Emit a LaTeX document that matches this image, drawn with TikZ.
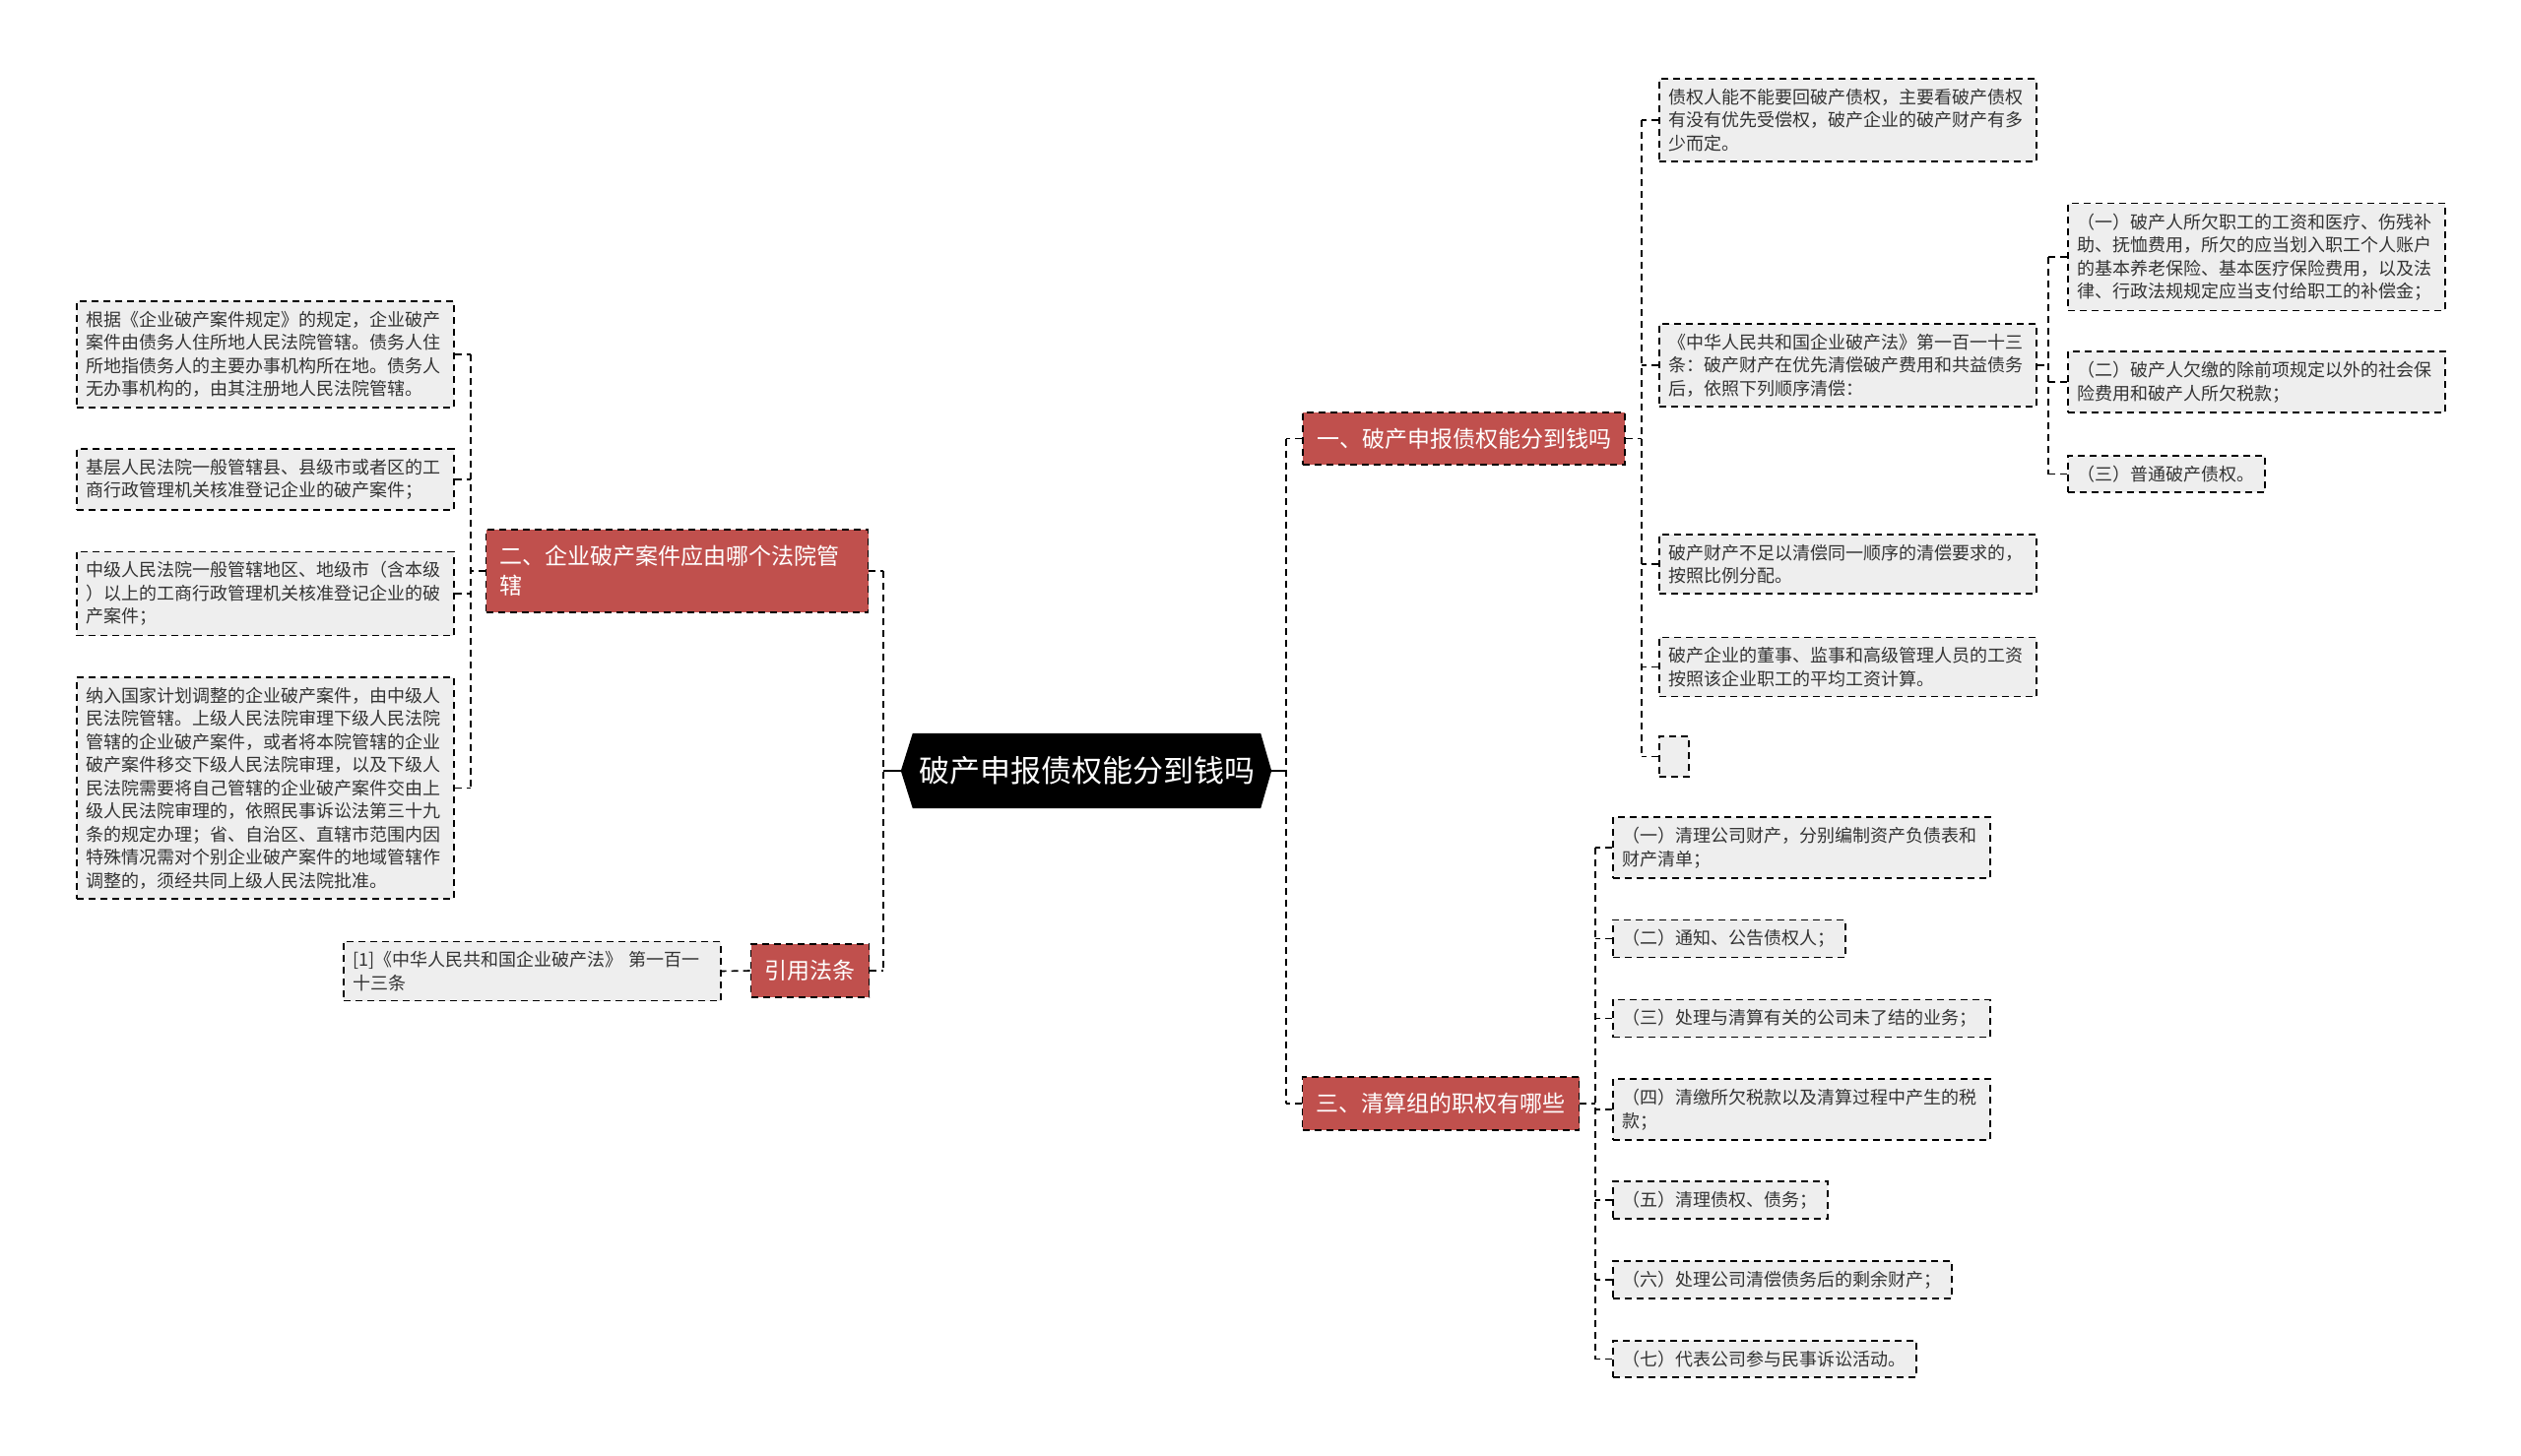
\documentclass[tikz,border=0pt]{standalone}
\usepackage{fontspec}
\setmainfont{Noto Sans CJK SC}
\usetikzlibrary{backgrounds}
\definecolor{mapred}{HTML}{C0504D}
\definecolor{leaffill}{HTML}{EEEEEE}
\definecolor{leaftext}{HTML}{333333}
\tikzset{
  link/.style={black,line width=1.6pt,dash pattern=on 7pt off 5pt},
  rootbox/.style={text=white,minimum width=353pt,minimum height=76pt,inner sep=0pt,font=\fontsize{31}{36}\selectfont},
  topic/.style={fill=mapred,draw=black,line width=1.6pt,dash pattern=on 7pt off 5pt,text=white,inner xsep=14pt,inner ysep=12pt,font=\fontsize{23}{30}\selectfont},
  leaf/.style={fill=leaffill,draw=black,line width=1.6pt,dash pattern=on 7pt off 5pt,text=leaftext,inner xsep=10pt,inner ysep=10pt,align=left,font=\fontsize{18}{23.5}\selectfont},
  wide/.style={leaf,text width=363pt},
}

\begin{document}
\begin{tikzpicture}[x=1pt,y=-1pt]
  \useasboundingbox (0,0) rectangle (2560,1479);

  \node[rootbox] (root) at (1103.5,783) {破产申报债权能分到钱吗};
  \begin{scope}[on background layer]
    \fill[black] (root.north west) -- (root.north east) -- ([xshift=11pt]root.east) -- (root.south east)
      -- (root.south west) -- ([xshift=-12pt]root.west) -- cycle;
  \end{scope}
  \coordinate (rootL) at ([xshift=-12pt]root.west);
  \coordinate (rootR) at ([xshift=11pt]root.east);

  % left side
  \node[topic,align=left,text width=360pt,minimum height=84pt] (jur) at (687.5,580) {二、企业破产案件应由哪个法院管\\辖};
  \node[topic,minimum height=54pt] (cite) at (822.5,986) {引用法条};

  \node[wide,anchor=west] (jur1) at (77,360) {根据《企业破产案件规定》的规定，企业破产\\案件由债务人住所地人民法院管辖。债务人住\\所地指债务人的主要办事机构所在地。债务人\\无办事机构的，由其注册地人民法院管辖。};
  \node[wide,anchor=west] (jur2) at (77,487) {基层人民法院一般管辖县、县级市或者区的工\\商行政管理机关核准登记企业的破产案件；};
  \node[wide,anchor=west] (jur3) at (77,603) {中级人民法院一般管辖地区、地级市（含本级\\）以上的工商行政管理机关核准登记企业的破\\产案件；};
  \node[wide,anchor=west] (jur4) at (77,800.5) {纳入国家计划调整的企业破产案件，由中级人\\民法院管辖。上级人民法院审理下级人民法院\\管辖的企业破产案件，或者将本院管辖的企业\\破产案件移交下级人民法院审理，以及下级人\\民法院需要将自己管辖的企业破产案件交由上\\级人民法院审理的，依照民事诉讼法第三十九\\条的规定办理；省、自治区、直辖市范围内因\\特殊情况需对个别企业破产案件的地域管辖作\\调整的，须经共同上级人民法院批准。};
  \node[wide,anchor=west] (cite1) at (348,986.5) {[1]《中华人民共和国企业破产法》 第一百一\\十三条};

  % right side
  \node[topic,minimum height=53pt] (claim) at (1486.5,445.5) {一、破产申报债权能分到钱吗};
  \node[topic,minimum height=54pt] (team) at (1463,1121) {三、清算组的职权有哪些};

  \node[wide,anchor=west] (claim1) at (1684,122) {债权人能不能要回破产债权，主要看破产债权\\有没有优先受偿权，破产企业的破产财产有多\\少而定。};
  \node[wide,anchor=west] (claim2) at (1684,371) {《中华人民共和国企业破产法》第一百一十三\\条：破产财产在优先清偿破产费用和共益债务\\后，依照下列顺序清偿：};
  \node[wide,anchor=west] (claim3) at (1684,573) {破产财产不足以清偿同一顺序的清偿要求的，\\按照比例分配。};
  \node[wide,anchor=west] (claim4) at (1684,677.5) {破产企业的董事、监事和高级管理人员的工资\\按照该企业职工的平均工资计算。};
  \node[leaf,anchor=west,minimum width=30pt,minimum height=41pt,inner sep=0pt] (claim5) at (1684,768.5) {};

  \node[wide,anchor=west] (order1) at (2099,261) {（一）破产人所欠职工的工资和医疗、伤残补\\助、抚恤费用，所欠的应当划入职工个人账户\\的基本养老保险、基本医疗保险费用，以及法\\律、行政法规规定应当支付给职工的补偿金；};
  \node[wide,anchor=west] (order2) at (2099,388) {（二）破产人欠缴的除前项规定以外的社会保\\险费用和破产人所欠税款；};
  \node[leaf,anchor=west] (order3) at (2099,481.5) {（三）普通破产债权。};

  \node[wide,anchor=west] (team1) at (1637,861) {（一）清理公司财产，分别编制资产负债表和\\财产清单；};
  \node[leaf,anchor=west] (team2) at (1637,953.5) {（二）通知、公告债权人；};
  \node[wide,anchor=west] (team3) at (1637,1034.5) {（三）处理与清算有关的公司未了结的业务；};
  \node[wide,anchor=west] (team4) at (1637,1127) {（四）清缴所欠税款以及清算过程中产生的税\\款；};
  \node[leaf,anchor=west] (team5) at (1637,1219) {（五）清理债权、债务；};
  \node[leaf,anchor=west] (team6) at (1637,1300) {（六）处理公司清偿债务后的剩余财产；};
  \node[leaf,anchor=west] (team7) at (1637,1380.5) {（七）代表公司参与民事诉讼活动。};

  % connectors
  \coordinate (lx) at (897,0);
  \coordinate (rx) at (1306,0);
  \coordinate (jx) at (478,0);
  \coordinate (cx) at (1667,0);
  \coordinate (ox) at (2080,0);
  \coordinate (tx) at (1620,0);

  \draw[line width=1.6pt] (rootL) -- (rootL -| lx);
  \draw[line width=1.6pt] (rootR) -- (rootR -| rx);

  \draw[link] (jur.east -| lx) -- (cite.east -| lx);
  \draw[link] (jur.east) -- (jur.east -| lx);
  \draw[link] (cite.east) -- (cite.east -| lx);
  \draw[link] (cite.west) -- (cite1.east);

  \draw[link] (jur.west) -- (jur.west -| jx);
  \draw[link] (jur1.east -| jx) -- (jur4.east -| jx);
  \foreach \n in {jur1,jur2,jur3,jur4}
    \draw[link] (\n.east) -- (\n.east -| jx);

  \draw[link] (claim.west -| rx) -- (team.west -| rx);
  \draw[link] (claim.west) -- (claim.west -| rx);
  \draw[link] (team.west) -- (team.west -| rx);

  \draw[link] (claim.east) -- (claim.east -| cx);
  \draw[link] (claim1.west -| cx) -- (claim5.west -| cx);
  \foreach \n in {claim1,claim2,claim3,claim4,claim5}
    \draw[link] (\n.west) -- (\n.west -| cx);

  \draw[link] (claim2.east) -- (claim2.east -| ox);
  \draw[link] (order1.west -| ox) -- (order3.west -| ox);
  \foreach \n in {order1,order2,order3}
    \draw[link] (\n.west) -- (\n.west -| ox);

  \draw[link] (team.east) -- (team.east -| tx);
  \draw[link] (team1.west -| tx) -- (team7.west -| tx);
  \foreach \n in {team1,team2,team3,team4,team5,team6,team7}
    \draw[link] (\n.west) -- (\n.west -| tx);
\end{tikzpicture}
\end{document}
